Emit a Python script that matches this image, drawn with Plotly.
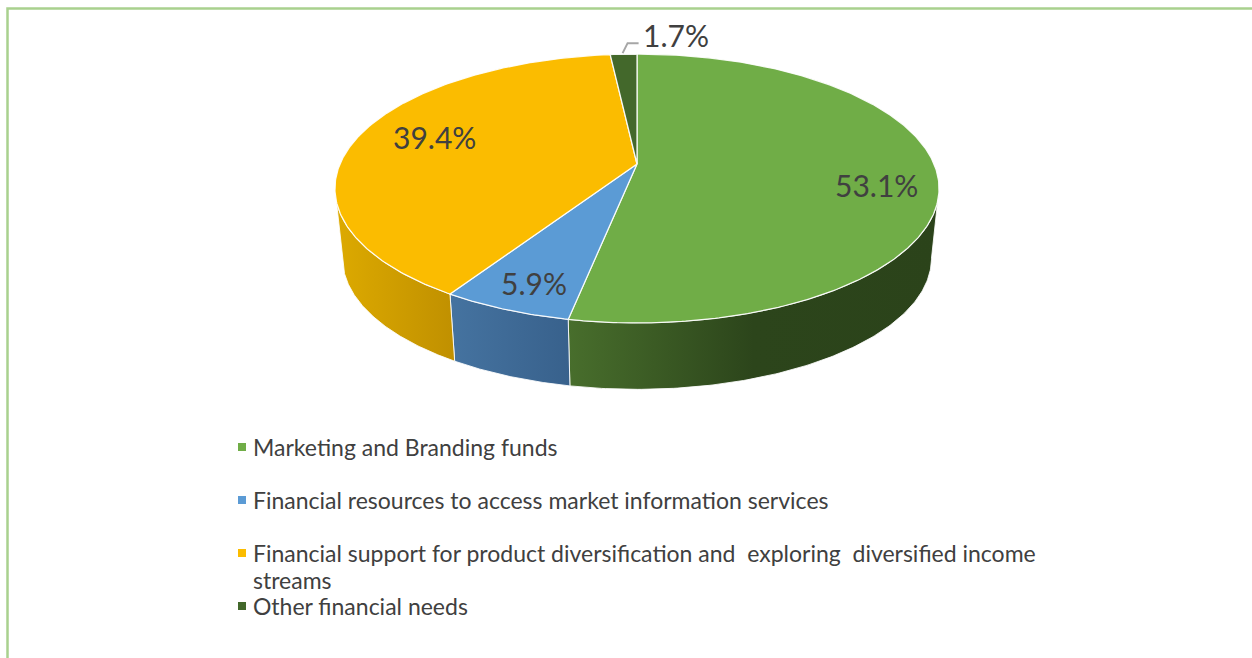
import numpy as np
import plotly.graph_objects as go

# Survey shares, clockwise from twelve o'clock
categories = [
    "Marketing and Branding funds",
    "Financial resources to access market information services",
    "Financial support for product diversification and  exploring  diversified income<br>streams",
    "Other financial needs",
]
shares = [53.1, 5.9, 39.4, 1.7]
share_labels = ["53.1%", "5.9%", "39.4%", "1.7%"]

# Slice colours and side-wall gradients (left to right on screen)
top_colors = ["#70AD47", "#5B9BD5", "#FBBC00", "#43682B"]
side_gradients = [
    [[0, "#486E2C"], [0.5, "#2C451B"], [1, "#2B431A"]],
    [[0, "#4573A0"], [1, "#38618C"]],
    [[0, "#DDAA00"], [1, "#C09000"]],
    [[0, "#2B431A"], [1, "#2B431A"]],
]

TEXT = "#404040"
FONT = "Lato"
WIDTH, HEIGHT = 1252, 658

# Perspective model of the disc: top face and the smaller, lower bottom face
CX, CY = 637, 164
A, B, K = 297, 130, 0.182
SCALE_LOW, CY_LOW = 0.975, 234.4


def project(theta, radius=1.0, low=False):
    """Project clock angle (radians) on the disc to page pixels."""
    px, py = radius * np.sin(theta), radius * np.cos(theta)
    den = 1 + K * py
    s = SCALE_LOW if low else 1.0
    return CX + s * A * px / den, (CY_LOW if low else CY) - s * B * py / den


total = sum(shares)
edges = np.radians(np.concatenate([[0], np.cumsum(shares)]) / total * 360)
visible_from = np.arccos(-K)
visible_to = 2 * np.pi - visible_from

fig = go.Figure()

# Side walls for the near half of the disc
for i, color_scale in enumerate(side_gradients):
    start, stop = max(edges[i], visible_from), min(edges[i + 1], visible_to)
    if stop <= start:
        continue
    t = np.linspace(start, stop, 140)
    ux, uy = project(t)
    lx, ly = project(t[::-1], low=True)
    xs, ys = np.concatenate([ux, lx, ux[:1]]), np.concatenate([uy, ly, uy[:1]])
    fig.add_trace(go.Scatter(
        x=xs, y=ys, mode="lines", fill="toself",
        line=dict(color="rgba(255,255,255,0.85)", width=1),
        fillgradient=dict(type="horizontal", colorscale=color_scale,
                          start=float(xs.min()), stop=float(xs.max())),
        hoverinfo="skip", showlegend=False,
    ))

# Top face slices
for i, color in enumerate(top_colors):
    t = np.linspace(edges[i], edges[i + 1], max(8, int(shares[i] * 6)))
    rx, ry = project(t)
    fig.add_trace(go.Scatter(
        x=np.concatenate([[CX], rx, [CX]]), y=np.concatenate([[CY], ry, [CY]]),
        mode="lines", fill="toself", fillcolor=color,
        line=dict(color="rgba(255,255,255,0.9)", width=1.25),
        name=categories[i], hoverinfo="name", showlegend=False,
    ))

# Percentage labels: radial position on the disc plus a small pixel nudge
label_radius = [0.80, 0.80, 0.72, 1.10]
label_nudge = [(0, 11), (-2, 7), (0, -6), (54, -10)]
mids = (edges[:-1] + edges[1:]) / 2
label_x, label_y = project(mids, np.array(label_radius))
for x, y, text, (dx, dy) in zip(label_x, label_y, share_labels, label_nudge):
    fig.add_annotation(x=x + dx, y=y + dy, text=text, showarrow=False,
                       font=dict(family=FONT, size=30, color=TEXT))

# Leader line from the smallest slice to its label
lead_x, lead_y = project(mids[3])
fig.add_trace(go.Scatter(
    x=[lead_x - 1, lead_x + 4, lead_x + 15], y=[lead_y - 1, lead_y - 11, lead_y - 11],
    mode="lines", line=dict(color="#A6A6A6", width=2),
    hoverinfo="skip", showlegend=False,
))

# Hand-placed key below the disc, with its uneven row spacing
key_rows = [447, 500, 553, 606]
KEY_LINE_STEP = 27
fig.add_trace(go.Scatter(
    x=[242] * 4, y=key_rows, mode="markers",
    marker=dict(symbol="square", size=8, color=top_colors),
    hoverinfo="skip", showlegend=False,
))
for row, name in zip(key_rows, categories):
    for j, part in enumerate(name.split("<br>")):
        fig.add_annotation(x=251, y=row + j * KEY_LINE_STEP, text=part, showarrow=False,
                           align="left", xanchor="left", yanchor="middle",
                           font=dict(family=FONT, size=23, color=TEXT))

fig.update_layout(
    width=WIDTH, height=HEIGHT,
    margin=dict(l=0, r=0, t=0, b=0),
    paper_bgcolor="white", plot_bgcolor="white",
    xaxis=dict(range=[0, WIDTH], visible=False, fixedrange=True),
    yaxis=dict(range=[HEIGHT, 0], visible=False, fixedrange=True),
    # Outer frame of the panel: left and top edges only
    shapes=[dict(type="path", xref="x", yref="y",
                 path=f"M 7.5 {HEIGHT} L 7.5 8.5 L {WIDTH} 8.5",
                 line=dict(color="#A9D18E", width=2.5))],
)

fig.write_html("out.html")
